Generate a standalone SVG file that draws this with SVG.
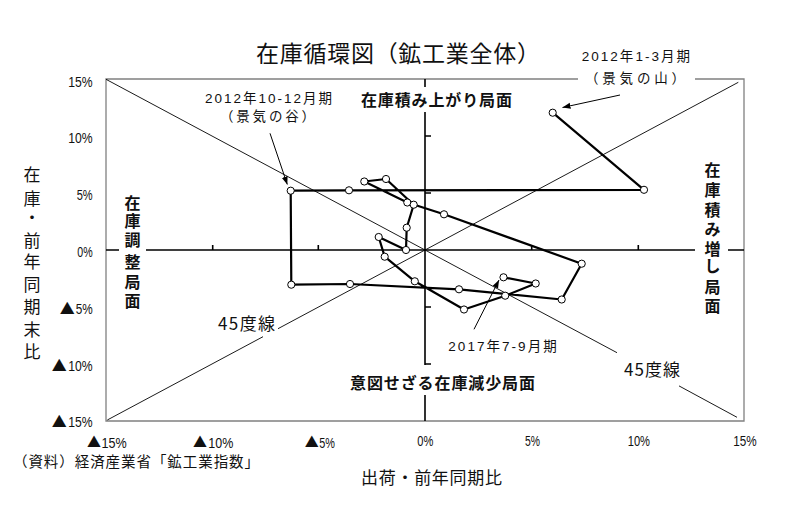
<svg xmlns="http://www.w3.org/2000/svg" width="796" height="518" viewBox="0 0 796 518">
<style>
text{font-family:"Liberation Sans","Noto Sans CJK JP",sans-serif;fill:#111}
.jp{font-family:"Noto Sans CJK JP","Liberation Sans",sans-serif}
.title{font-size:23px}
.lab{font-size:13.5px}
.bold{font-size:16px;font-weight:bold}
.vt{font-size:17px;text-anchor:middle}
.vb{font-size:16px;font-weight:bold;text-anchor:middle}
.tk{font-size:14px}
.tri{font-family:"Noto Sans CJK JP",sans-serif;font-size:15px}
.trx{font-family:"Noto Sans CJK JP",sans-serif;font-size:14px}
.frame{fill:none;stroke:#808080;stroke-width:1.3}
.axis{fill:none;stroke:#000;stroke-width:1.6}
.diag{fill:none;stroke:#000;stroke-width:0.9}
.data{fill:none;stroke:#000;stroke-width:2.2;stroke-linejoin:round}
.pt{fill:#fff;stroke:#000;stroke-width:1}
.arr{fill:none;stroke:#000;stroke-width:1;marker-end:url(#ah)}
</style>
<defs>
<marker id="ah" markerUnits="userSpaceOnUse" markerWidth="9" markerHeight="7" refX="8" refY="3" orient="auto">
<path d="M0,0 L8,3 L0,6 z" fill="#000"/>
</marker>
</defs>
<rect width="796" height="518" fill="#fff"/>

<g id="title"><text class="title jp" x="256" y="62" textLength="284" lengthAdjust="spacing">在庫循環図（鉱工業全体）</text></g>

<g id="frame">
<path class="frame" d="M578,79 H106 V421 H744 V79 H695"/>
</g>

<g id="axes">
<path class="axis" d="M106,250 H119 M146,250 H695 M728,250 H744 M425,79 V87 M425,112 V365 M425,395 V421"/>
<path class="axis" d="M212.7,250 v-5 M318.3,250 v-5 M531.7,250 v-5 M638.3,250 v-5 M425,136 h6 M425,193 h6 M425,307 h6 M425,364 h6"/>
</g>

<g id="diagonals">
<path class="diag" d="M106,79.3 L617,352.7 M679,385.9 L737,417.3"/>
<path class="diag" d="M107.3,420 L263,336.7 M278,328.7 L738.3,82.3"/>
</g>

<g id="ytick-labels" class="tk">
<text x="68.3" y="86.5" textLength="24.4" lengthAdjust="spacingAndGlyphs">15%</text>
<text x="68.3" y="143.3" textLength="24.4" lengthAdjust="spacingAndGlyphs">10%</text>
<text x="76.7" y="200" textLength="16" lengthAdjust="spacingAndGlyphs">5%</text>
<text x="77.3" y="257" textLength="15.4" lengthAdjust="spacingAndGlyphs">0%</text>
<text class="tri" x="59.7" y="313.5">▲</text>
<text x="75.7" y="313.5" textLength="17" lengthAdjust="spacingAndGlyphs">5%</text>
<text class="tri" x="51.7" y="370.5">▲</text>
<text x="68.3" y="370.5" textLength="24.4" lengthAdjust="spacingAndGlyphs">10%</text>
<text class="tri" x="51.7" y="426.5">▲</text>
<text x="68.3" y="426.5" textLength="24.4" lengthAdjust="spacingAndGlyphs">15%</text>
</g>

<g id="xtick-labels" class="tk">
<text class="trx" x="87" y="447">▲</text>
<text x="101.5" y="447.5" textLength="25.2" lengthAdjust="spacingAndGlyphs">15%</text>
<text class="trx" x="193" y="447">▲</text>
<text x="208.3" y="447.5" textLength="25" lengthAdjust="spacingAndGlyphs">10%</text>
<text class="trx" x="304.7" y="447">▲</text>
<text x="319.3" y="447.5" textLength="15.7" lengthAdjust="spacingAndGlyphs">5%</text>
<text x="417.3" y="446" textLength="16" lengthAdjust="spacingAndGlyphs">0%</text>
<text x="525" y="446" textLength="15" lengthAdjust="spacingAndGlyphs">5%</text>
<text x="627.7" y="446" textLength="22.3" lengthAdjust="spacingAndGlyphs">10%</text>
<text x="733.3" y="446" textLength="23.4" lengthAdjust="spacingAndGlyphs">15%</text>
</g>

<g id="source"><text class="jp" style="font-size:14.5px" x="13" y="467" textLength="246" lengthAdjust="spacing">（資料）経済産業省「鉱工業指数」</text></g>

<g id="x-title"><text class="jp" style="font-size:17px" x="361" y="484" textLength="141" lengthAdjust="spacing">出荷・前年同期比</text></g>

<g id="y-title" class="jp">
<text class="vt" x="32" y="180.5">在</text>
<text class="vt" x="32" y="204.5">庫</text>
<text class="vt" x="32" y="224">・</text>
<text class="vt" x="32" y="246.5">前</text>
<text class="vt" x="32" y="267.5">年</text>
<text class="vt" x="32" y="290.5">同</text>
<text class="vt" x="32" y="312.5">期</text>
<text class="vt" x="32" y="335.5">末</text>
<text class="vt" x="32" y="357.5">比</text>
</g>

<g id="phase-top"><text class="bold jp" x="361" y="105.5" textLength="151" lengthAdjust="spacing">在庫積み上がり局面</text></g>

<g id="phase-bottom"><text class="bold jp" x="350" y="388.5" textLength="185" lengthAdjust="spacing">意図せざる在庫減少局面</text></g>

<g id="phase-left" class="jp">
<text class="vb" x="132.5" y="209">在</text>
<text class="vb" x="132.5" y="227">庫</text>
<text class="vb" x="132.5" y="245.5">調</text>
<text class="vb" x="132.5" y="268">整</text>
<text class="vb" x="132.5" y="287.5">局</text>
<text class="vb" x="132.5" y="306.5">面</text>
</g>

<g id="phase-right" class="jp">
<text class="vb" x="712.5" y="175.5">在</text>
<text class="vb" x="712.5" y="195.5">庫</text>
<text class="vb" x="712.5" y="215.5">積</text>
<text class="vb" x="712.5" y="234.5">み</text>
<text class="vb" x="712.5" y="255">増</text>
<text class="vb" x="712.5" y="272">し</text>
<text class="vb" x="712.5" y="293">局</text>
<text class="vb" x="712.5" y="312">面</text>
</g>

<g id="label-45-left"><text class="jp" style="font-size:17px" x="218" y="330" textLength="57" lengthAdjust="spacing">45度線</text></g>
<g id="label-45-right"><text class="jp" style="font-size:17px" x="624" y="376" textLength="56" lengthAdjust="spacing">45度線</text></g>

<g id="label-trough">
<text class="lab" x="205" y="102.5" textLength="127" lengthAdjust="spacing">2012年10-12月期</text>
<text class="lab jp" x="220" y="120.5" textLength="95" lengthAdjust="spacing">（景気の谷）</text>
</g>
<g id="label-peak">
<text class="lab" x="581.7" y="60.5" textLength="108.3" lengthAdjust="spacing">2012年1-3月期</text>
<text class="lab jp" x="585" y="82.5" textLength="100" lengthAdjust="spacing">（景気の山）</text>
</g>
<g id="label-2017">
<text class="lab" x="448.3" y="351" textLength="108.4" lengthAdjust="spacing">2017年7-9月期</text>
</g>

<g id="connectors">
<polyline class="data" points="552.7,112.7 644,189.8 349,190.3 290.7,190.7 291.3,284.7 350,284 459,289.3 561.7,299.5 581.7,263.7 444,214.3 407.3,202.5 364.3,181.5 386,179 413.7,204.7 406.7,227.7 406,250 378.7,237 384.7,256.7 414.8,281.3 464,309.5 505.2,295.7 535.7,283.5 503.5,277.3"/>
<line class="arr" x1="270" y1="133.3" x2="287.3" y2="184.5"/>
<line class="arr" x1="620" y1="95" x2="562.5" y2="107.5"/>
<line class="arr" x1="474" y1="329.3" x2="499" y2="280"/>
</g>

<g id="points">
<circle class="pt" cx="552.7" cy="112.7" r="3.6"/>
<circle class="pt" cx="644" cy="189.8" r="3.6"/>
<circle class="pt" cx="349" cy="190.3" r="3.6"/>
<circle class="pt" cx="290.7" cy="190.7" r="3.6"/>
<circle class="pt" cx="291.3" cy="284.7" r="3.6"/>
<circle class="pt" cx="350" cy="284" r="3.6"/>
<circle class="pt" cx="459" cy="289.3" r="3.6"/>
<circle class="pt" cx="561.7" cy="299.5" r="3.6"/>
<circle class="pt" cx="581.7" cy="263.7" r="3.6"/>
<circle class="pt" cx="444" cy="214.3" r="3.6"/>
<circle class="pt" cx="407.3" cy="202.5" r="3.6"/>
<circle class="pt" cx="364.3" cy="181.5" r="3.6"/>
<circle class="pt" cx="386" cy="179" r="3.6"/>
<circle class="pt" cx="413.7" cy="204.7" r="3.6"/>
<circle class="pt" cx="406.7" cy="227.7" r="3.6"/>
<circle class="pt" cx="406" cy="250" r="3.6"/>
<circle class="pt" cx="378.7" cy="237" r="3.6"/>
<circle class="pt" cx="384.7" cy="256.7" r="3.6"/>
<circle class="pt" cx="414.8" cy="281.3" r="3.6"/>
<circle class="pt" cx="464" cy="309.5" r="3.6"/>
<circle class="pt" cx="505.2" cy="295.7" r="3.6"/>
<circle class="pt" cx="535.7" cy="283.5" r="3.6"/>
<circle class="pt" cx="503.5" cy="277.3" r="3.6"/>
</g>
</svg>
